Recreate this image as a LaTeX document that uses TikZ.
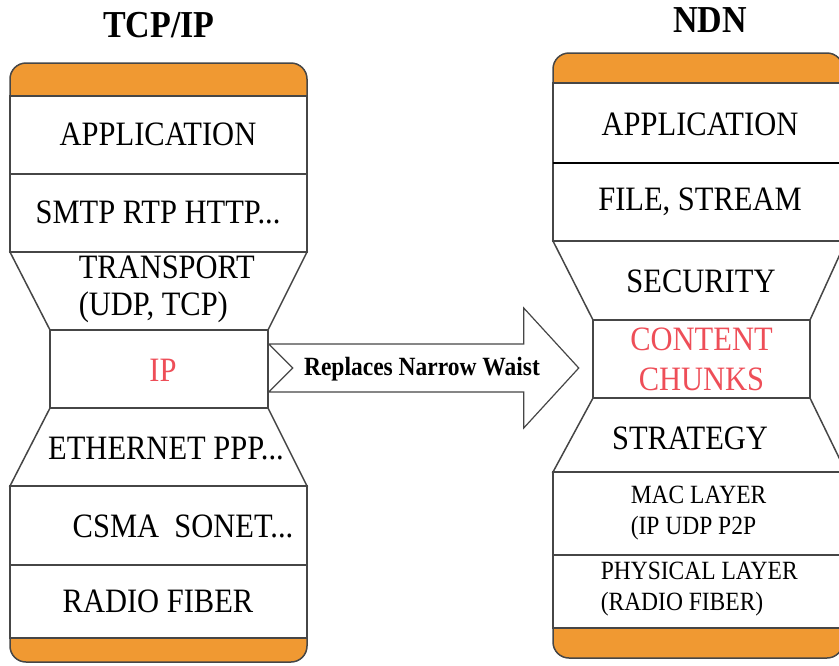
\documentclass[tikz,border=0pt]{standalone}
\usepackage{fontspec}
\setmainfont{Liberation Serif}
\definecolor{capfill}{RGB}{240,153,50}
\definecolor{waist}{RGB}{238,78,88}
\definecolor{edge}{RGB}{70,70,70}

\begin{document}
\begin{tikzpicture}[x=1pt,y=-1pt,line width=1.5pt,
    box/.style={draw=edge},
    capbox/.style={draw=edge,fill=capfill},
    lbl/.style={font=\fontsize{30.5}{33}\selectfont,yscale=1.12,inner sep=0pt},
    small lbl/.style={font=\fontsize{23.5}{27.5}\selectfont,yscale=1.12,inner sep=0pt,align=left},
    title/.style={font=\fontsize{34}{38}\selectfont\bfseries,yscale=1.12,inner sep=0pt}]
    \useasboundingbox (0,0) rectangle (839,665);

    % TCP/IP stack
    \draw[capbox] (10,96) -- (10,79) arc[start angle=180,end angle=270,radius=16]
        -- (291,63) arc[start angle=270,end angle=360,radius=16] -- (307,96) -- cycle;
    \draw[box] (10,96) rectangle (307,174);
    \draw[box] (10,174) rectangle (307,252);
    \draw[box] (10,252) -- (307,252) -- (268,330) -- (50,330) -- cycle;
    \node[box,minimum width=218pt,minimum height=78pt] (ip) at (159,369) {};
    \draw[box] (50,408) -- (268,408) -- (307,486) -- (10,486) -- cycle;
    \draw[box] (10,486) rectangle (307,565);
    \draw[box] (10,565) rectangle (307,638);
    \draw[capbox] (10,638) -- (307,638) -- (307,646) arc[start angle=0,end angle=90,radius=16]
        -- (26,662) arc[start angle=90,end angle=180,radius=16] -- cycle;

    % NDN stack
    \draw[capbox] (553,83) -- (553,69) arc[start angle=180,end angle=270,radius=16]
        -- (827,53) arc[start angle=270,end angle=360,radius=16] -- (843,83) -- cycle;
    \draw[box] (553,83) rectangle (843,163);
    \draw[box] (553,163) rectangle (843,241);
    \draw[black,line width=2.2pt] (553,163) -- (843,163);
    \draw[box] (553,241) -- (846,241) -- (810,320) -- (593,320) -- cycle;
    \node[box,minimum width=217pt,minimum height=78pt] (chunks) at (701.5,359) {};
    \draw[box] (593,398) -- (810,398) -- (846,472) -- (553,472) -- cycle;
    \draw[box] (553,472) rectangle (843,555);
    \draw[box] (553,555) rectangle (843,628);
    \draw[capbox] (553,628) -- (843,628) -- (843,642) arc[start angle=0,end angle=90,radius=16]
        -- (569,658) arc[start angle=90,end angle=180,radius=16] -- cycle;

    % block arrow
    \draw[edge,line width=1.2pt,fill=white] (ip.east) ++(0,-25) -- ++(255,0) -- ++(0,-36)
        -- ++(55,60) -- ++(-55,60) -- ++(0,-36) -- ++(-255,0) -- ++(24,-24) -- cycle;
    \node[font=\fontsize{23.5}{27}\selectfont\bfseries,yscale=1.12,inner sep=0pt] (waist) at (422,369) {Replaces Narrow Waist};

    % labels
    \node[title] (tcpip) at (159,25) {TCP/IP};
    \node[title] (ndn) at (710,20) {NDN};

    \node[lbl] (app1) at (158,134) {APPLICATION};
    \node[lbl] (smtp) at (158,212) {SMTP RTP HTTP...};
    \node[lbl,align=left,anchor=west] (transport) at (78,289) {TRANSPORT\\(UDP, TCP)};
    \node[lbl,text=waist] (iplbl) at (163,370) {IP};
    \node[lbl] (ether) at (166,449) {ETHERNET PPP...};
    \node[lbl] (csma) at (183,526) {CSMA\ \ SONET...};
    \node[lbl] (radio1) at (158,601) {RADIO FIBER};

    \node[lbl] (app2) at (700,124) {APPLICATION};
    \node[lbl] (file) at (700,202) {FILE, STREAM};
    \node[lbl] (security) at (701,281) {SECURITY};
    \node[lbl,font=\fontsize{30.5}{35.5}\selectfont,align=center,text=waist] (content) at (chunks) {CONTENT\\CHUNKS};
    \node[lbl] (strategy) at (690,438) {STRATEGY};
    \node[small lbl,anchor=west] (mac) at (630,513) {MAC LAYER\\(IP UDP P2P};
    \node[small lbl,anchor=west] (phy) at (600,589) {PHYSICAL LAYER\\(RADIO FIBER)};
\end{tikzpicture}
\end{document}
